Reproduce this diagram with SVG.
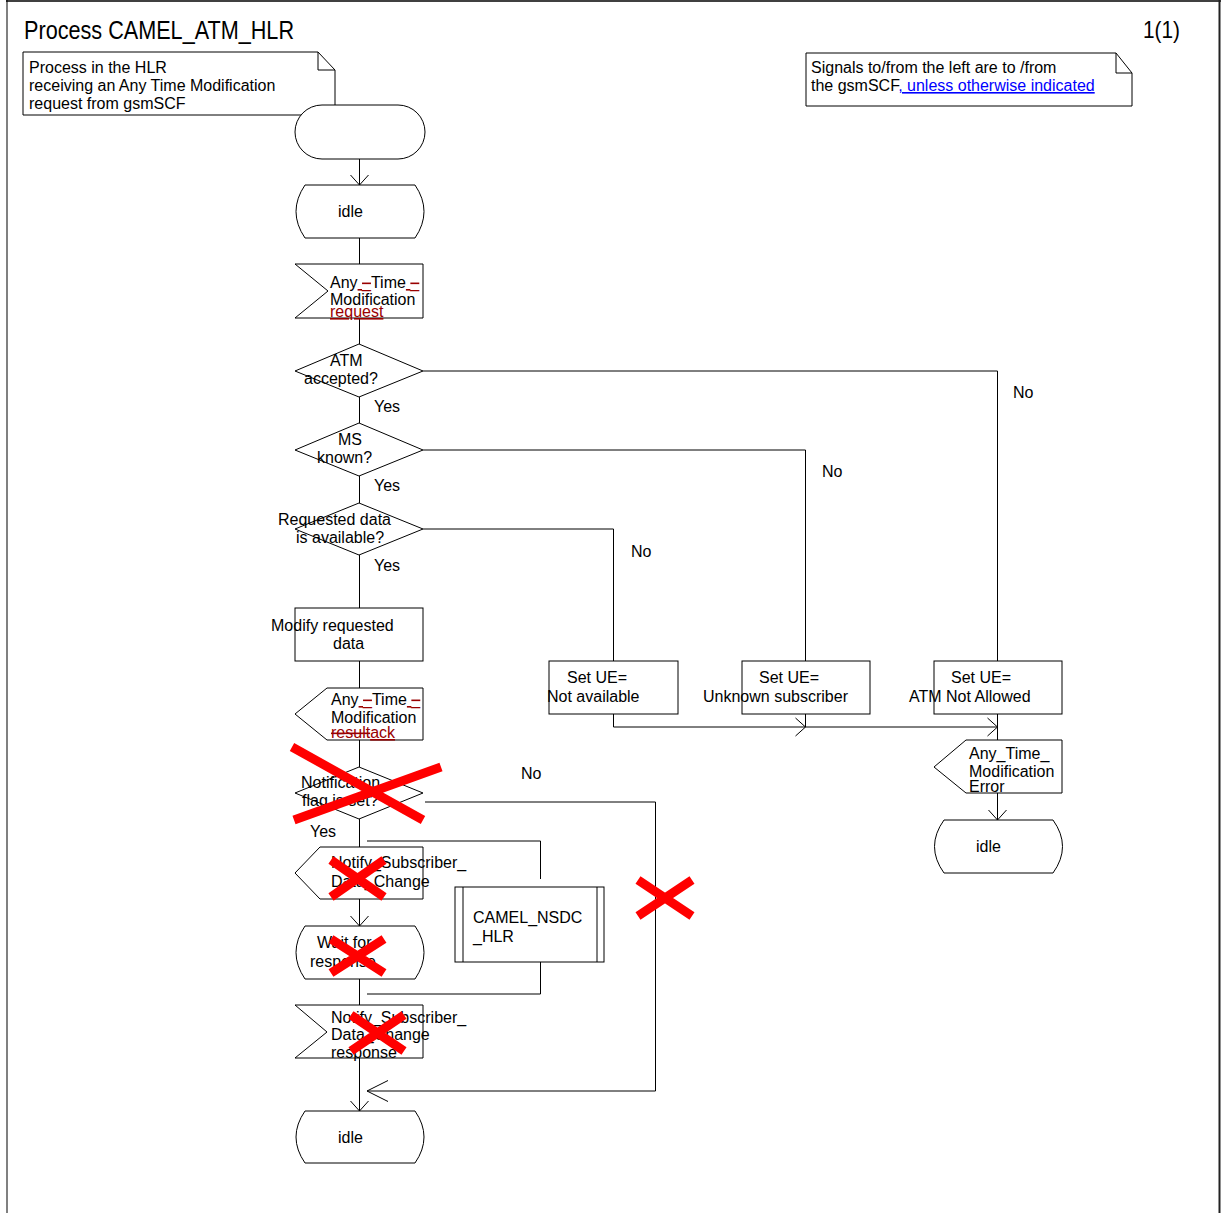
<svg xmlns="http://www.w3.org/2000/svg" width="1221" height="1213" viewBox="0 0 1221 1213">
<style>
.s{fill:#fff;stroke:#000;stroke-width:1}
.f{fill:none;stroke:#000;stroke-width:1}
.t{font-family:"Liberation Sans",Arial,sans-serif;font-size:16px;fill:#000}
.c{fill:none;stroke:#000;stroke-width:1}
.x{stroke:#f00;stroke-width:9;fill:none}
.chg{fill:#990000}
.lnk{fill:#0000ff;text-decoration:underline}
</style>
<defs>
<marker id="arr" markerUnits="userSpaceOnUse" markerWidth="24" markerHeight="24" viewBox="-12 -12 24 24" refX="0" refY="0" orient="auto">
<path d="M-10,-9 L0,0 L-10,9" fill="none" stroke="#000" stroke-width="1"/>
</marker>
<marker id="arrBig" markerUnits="userSpaceOnUse" markerWidth="48" markerHeight="48" viewBox="-24 -24 48 48" refX="0" refY="0" orient="auto">
<path d="M-21,-10.5 L0,0 L-21,10.5" fill="none" stroke="#000" stroke-width="1"/>
</marker>
</defs>
<rect width="1221" height="1213" fill="#fff"/>
<g id="frame">
<line x1="7" y1="0" x2="7" y2="1213" stroke="#808080" stroke-width="2"/>
<line x1="6" y1="1" x2="1221" y2="1" stroke="#000" stroke-width="1.5"/>
<line x1="1219.5" y1="0" x2="1219.5" y2="1213" stroke="#222" stroke-width="2"/>
</g>
<g id="title">
<text class="t" x="24" y="39" style="font-size:26px" textLength="270" lengthAdjust="spacingAndGlyphs">Process CAMEL_ATM_HLR</text>
<text class="t" x="1143" y="38" style="font-size:24px" textLength="37" lengthAdjust="spacingAndGlyphs">1(1)</text>
</g>
<g id="comment1">
<path class="s" d="M23,52 H318 L335,70 V115 H23 Z"/>
<path class="f" d="M318,52 V70 H335"/>
<text class="t" x="29" y="73">Process in the HLR</text>
<text class="t" x="29" y="91">receiving an Any Time Modification</text>
<text class="t" x="29" y="109">request from gsmSCF</text>
</g>
<g id="comment2">
<path class="s" d="M806,53 H1116 L1132,73 V106 H806 Z"/>
<path class="f" d="M1116,53 V73 H1132"/>
<text class="t" x="811" y="73">Signals to/from the left are to /from</text>
<text class="t" x="811" y="91">the gsmSCF<tspan class="lnk">, unless otherwise indicated</tspan></text>
</g>
<g id="connectors">
<path class="c" d="M359.5,159 V185" marker-end="url(#arr)"/>
<path class="c" d="M359.5,238 V264"/>
<path class="c" d="M359.5,318 V344"/>
<path class="c" d="M359.5,397 V423"/>
<path class="c" d="M359.5,476 V503"/>
<path class="c" d="M359.5,555 V608"/>
<path class="c" d="M359.5,661 V688"/>
<path class="c" d="M359.5,740 V767"/>
<path class="c" d="M359.5,819 V847"/>
<path class="c" d="M359.5,899 V926" marker-end="url(#arr)"/>
<path class="c" d="M359.5,979 V1005"/>
<path class="c" d="M359.5,1058 V1111" marker-end="url(#arr)"/>
<path class="c" d="M423,371 H997.5 V661"/>
<path class="c" d="M423,450 H805.5 V661"/>
<path class="c" d="M423,529 H613.5 V661"/>
<path class="c" d="M613.5,714 V727 H805.5" marker-end="url(#arr)"/>
<path class="c" d="M805.5,714 V727 H997.5" marker-end="url(#arr)"/>
<path class="c" d="M997.5,714 V740"/>
<path class="c" d="M997.5,793 V820" marker-end="url(#arr)"/>
<path class="c" d="M425,802 H655.5 V1091 H367" marker-end="url(#arrBig)"/>
<path class="c" d="M367,841 H540.5 V879"/>
<path class="c" d="M367,994 H540.5 V956"/>
</g>
<g id="start">
<rect class="s" x="295" y="105" width="130" height="54" rx="27" ry="27"/>
</g>
<g id="idle1">
<path class="s" d="M305,185 H415 Q433,211.5 415,238 H305 Q287,211.5 305,185 Z"/>
<text class="t" x="338" y="217">idle</text>
</g>
<g id="atm_request">
<path class="s" d="M295,264 H423 V318 H295 L328,291 Z"/>
<text class="t" x="330" y="288">Any<tspan class="chg" text-decoration="underline"> </tspan><tspan class="chg" text-decoration="line-through">_</tspan>Time<tspan class="chg" text-decoration="underline"> </tspan><tspan class="chg" text-decoration="line-through">_</tspan></text>
<text class="t" x="330" y="305">Modification</text>
<text class="t chg" x="330" y="317" text-decoration="underline">request</text>
</g>
<g id="dec_atm">
<polygon class="s" points="295,371 359,344 423,371 359,397"/>
<text class="t" x="330" y="366">ATM</text>
<text class="t" x="304" y="384">accepted?</text>
<text class="t" x="374" y="412">Yes</text>
<text class="t" x="1013" y="398">No</text>
</g>
<g id="dec_ms">
<polygon class="s" points="295,450 359,423 423,450 359,476"/>
<text class="t" x="338" y="445">MS</text>
<text class="t" x="317" y="463">known?</text>
<text class="t" x="374" y="491">Yes</text>
<text class="t" x="822" y="477">No</text>
</g>
<g id="dec_data">
<polygon class="s" points="295,529 359,503 423,529 359,555"/>
<text class="t" x="278" y="525">Requested data</text>
<text class="t" x="296" y="543">is available?</text>
<text class="t" x="374" y="571">Yes</text>
<text class="t" x="631" y="557">No</text>
</g>
<g id="modify">
<rect class="s" x="295" y="608" width="128" height="53"/>
<text class="t" x="271" y="631">Modify requested</text>
<text class="t" x="333" y="649">data</text>
</g>
<g id="atm_resultack">
<path class="s" d="M327,688 H423 V740 H327 L295,714 Z"/>
<text class="t" x="331" y="705">Any<tspan class="chg" text-decoration="underline"> </tspan><tspan class="chg" text-decoration="line-through">_</tspan>Time<tspan class="chg" text-decoration="underline"> </tspan><tspan class="chg" text-decoration="line-through">_</tspan></text>
<text class="t" x="331" y="723">Modification</text>
<text class="t" x="331" y="738"><tspan class="chg" text-decoration="line-through">result</tspan><tspan class="chg" text-decoration="underline">ack</tspan></text>
</g>
<g id="set_na">
<rect class="s" x="549" y="661" width="129" height="53"/>
<text class="t" x="567" y="683">Set UE=</text>
<text class="t" x="547" y="702">Not available</text>
</g>
<g id="set_unknown">
<rect class="s" x="742" y="661" width="128" height="53"/>
<text class="t" x="759" y="683">Set UE=</text>
<text class="t" x="703" y="702">Unknown subscriber</text>
</g>
<g id="set_notallowed">
<rect class="s" x="934" y="661" width="128" height="53"/>
<text class="t" x="951" y="683">Set UE=</text>
<text class="t" x="909" y="702">ATM Not Allowed</text>
</g>
<g id="atm_error">
<path class="s" d="M966,740 H1062 V793 H966 L934,767 Z"/>
<text class="t" x="969" y="759">Any_Time_</text>
<text class="t" x="969" y="777">Modification</text>
<text class="t" x="969" y="792">Error</text>
</g>
<g id="idle_err">
<path class="s" d="M944,820 H1053 Q1072,846.5 1053,873 H944 Q925,846.5 944,820 Z"/>
<text class="t" x="976" y="852">idle</text>
</g>
<g id="dec_notif">
<polygon class="s" points="295,793 359,767 423,793 359,819"/>
<text class="t" x="301" y="788">Notification</text>
<text class="t" x="302" y="806">flag is set?</text>
<text class="t" x="310" y="837">Yes</text>
<text class="t" x="521" y="779">No</text>
</g>
<g id="notify_out">
<path class="s" d="M320,847 H423 V899 H320 L295,873 Z"/>
<text class="t" x="331" y="868">Notify_Subscriber_</text>
<text class="t" x="331" y="887">Data_Change</text>
</g>
<g id="camel_nsdc">
<rect class="s" x="455" y="887" width="149" height="75"/>
<line class="f" x1="463" y1="887" x2="463" y2="962"/>
<line class="f" x1="597" y1="887" x2="597" y2="962"/>
<text class="t" x="473" y="923">CAMEL_NSDC</text>
<text class="t" x="473" y="942">_HLR</text>
</g>
<g id="wait">
<path class="s" d="M305,926 H415 Q433,952.5 415,979 H305 Q287,952.5 305,926 Z"/>
<text class="t" x="317" y="948">Wait for</text>
<text class="t" x="310" y="967">response</text>
</g>
<g id="notify_resp">
<path class="s" d="M295,1005 H423 V1058 H295 L327,1032 Z"/>
<text class="t" x="331" y="1023">Notify_Subscriber_</text>
<text class="t" x="331" y="1040">Data_Change</text>
<text class="t" x="331" y="1058">response</text>
</g>
<g id="idle_end">
<path class="s" d="M305,1111 H415 Q433,1137 415,1163 H305 Q287,1137 305,1111 Z"/>
<text class="t" x="338" y="1143">idle</text>
</g>
<g id="crosses">
<path class="x" d="M292,747 L423,820 M294,820 L441,767"/>
<path class="x" d="M331,860 L384,897 M331,897 L384,860"/>
<path class="x" d="M331,939 L384,973 M331,973 L384,939"/>
<path class="x" d="M351,1015 L404,1051 M351,1051 L404,1015"/>
<path class="x" d="M638,880 L692,916 M638,916 L692,880"/>
</g>
</svg>
